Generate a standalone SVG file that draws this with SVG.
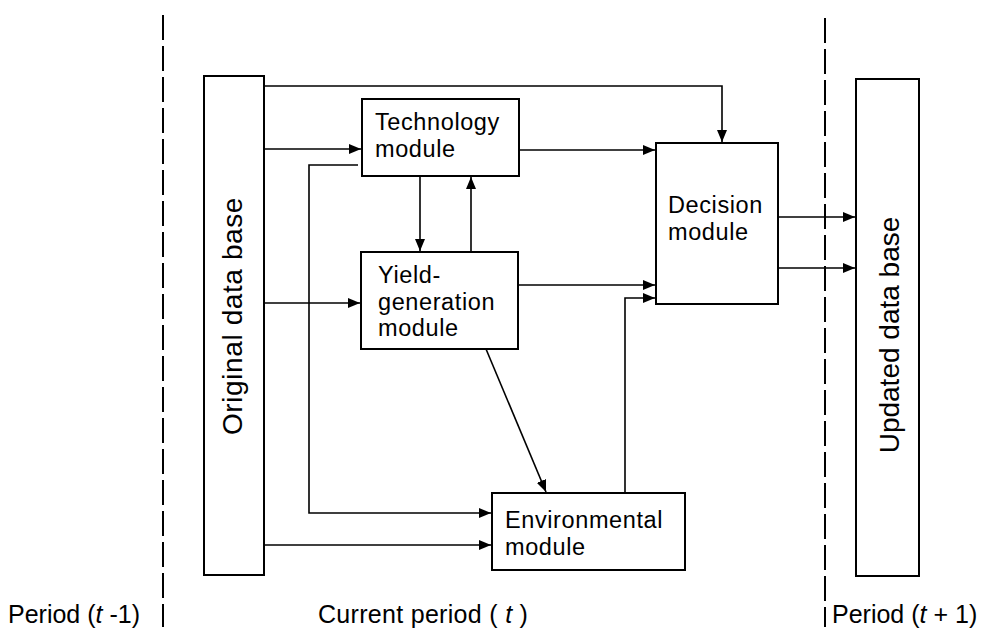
<svg xmlns="http://www.w3.org/2000/svg" width="984" height="630" viewBox="0 0 984 630">
<style>
.box{fill:#fff;stroke:#000;stroke-width:2}
.lbl{font-family:"Liberation Sans",Arial,sans-serif;font-size:23.5px;letter-spacing:0.6px;fill:#000}
.big{font-family:"Liberation Sans",Arial,sans-serif;font-size:28px;fill:#000}
.per{font-family:"Liberation Sans",Arial,sans-serif;font-size:25px;fill:#000}
.con{fill:none;stroke:#000;stroke-width:1.6}
.dash{fill:none;stroke:#000;stroke-width:2;stroke-dasharray:25 6}
</style>
<defs>
<marker id="arr" markerUnits="userSpaceOnUse" markerWidth="13" markerHeight="11" refX="12" refY="5" orient="auto">
<path d="M0,0 L12,5 L0,10 z" fill="#000"/>
</marker>
</defs>
<rect width="984" height="630" fill="#fff"/>
<g id="period-dividers">
<line class="dash" x1="163" y1="15" x2="163" y2="627"/>
<line class="dash" x1="825" y1="18" x2="825" y2="627"/>
</g>
<g id="connectors">
<path class="con" d="M264,86 H722 V142" marker-end="url(#arr)"/>
<path class="con" d="M264,149 H361" marker-end="url(#arr)"/>
<path class="con" d="M519,150 H655" marker-end="url(#arr)"/>
<path class="con" d="M358,165 H309 V513 H491" marker-end="url(#arr)"/>
<path class="con" d="M420,176 V251" marker-end="url(#arr)"/>
<path class="con" d="M471,252 V177" marker-end="url(#arr)"/>
<path class="con" d="M264,303 H360" marker-end="url(#arr)"/>
<path class="con" d="M518,285 H655" marker-end="url(#arr)"/>
<path class="con" d="M625,493 V298 H655" marker-end="url(#arr)"/>
<path class="con" d="M486,349 L546,492" marker-end="url(#arr)"/>
<path class="con" d="M264,545 H491" marker-end="url(#arr)"/>
<path class="con" d="M778,217 H855" marker-end="url(#arr)"/>
<path class="con" d="M778,268 H855" marker-end="url(#arr)"/>
</g>
<g id="original-data-base">
<rect class="box" x="204" y="76" width="60" height="499"/>
<text class="big" transform="translate(242,316) rotate(-90)" text-anchor="middle" letter-spacing="0.6">Original data base</text>
</g>
<g id="updated-data-base">
<rect class="box" x="856" y="79" width="63" height="497"/>
<text class="big" transform="translate(899,335) rotate(-90)" text-anchor="middle">Updated data base</text>
</g>
<g id="technology-module">
<rect class="box" x="362" y="99" width="157" height="77"/>
<text class="lbl" x="375" y="130">Technology</text>
<text class="lbl" x="375" y="157">module</text>
</g>
<g id="yield-generation-module">
<rect class="box" x="361" y="252" width="157" height="97"/>
<text class="lbl" x="378" y="283">Yield-</text>
<text class="lbl" x="378" y="309.5">generation</text>
<text class="lbl" x="378" y="336">module</text>
</g>
<g id="decision-module">
<rect class="box" x="656" y="143" width="122" height="161"/>
<text class="lbl" x="668" y="213">Decision</text>
<text class="lbl" x="668" y="240">module</text>
</g>
<g id="environmental-module">
<rect class="box" x="492" y="493" width="193" height="77"/>
<text class="lbl" x="505" y="528">Environmental</text>
<text class="lbl" x="505" y="555">module</text>
</g>
<g id="period-labels">
<text class="per" x="8" y="623">Period (<tspan font-style="italic">t</tspan> -1)</text>
<text class="per" x="318" y="623" letter-spacing="0.3">Current period ( <tspan font-style="italic">t</tspan> )</text>
<text class="per" x="832" y="623">Period (<tspan font-style="italic">t</tspan> + 1)</text>
</g>
</svg>
